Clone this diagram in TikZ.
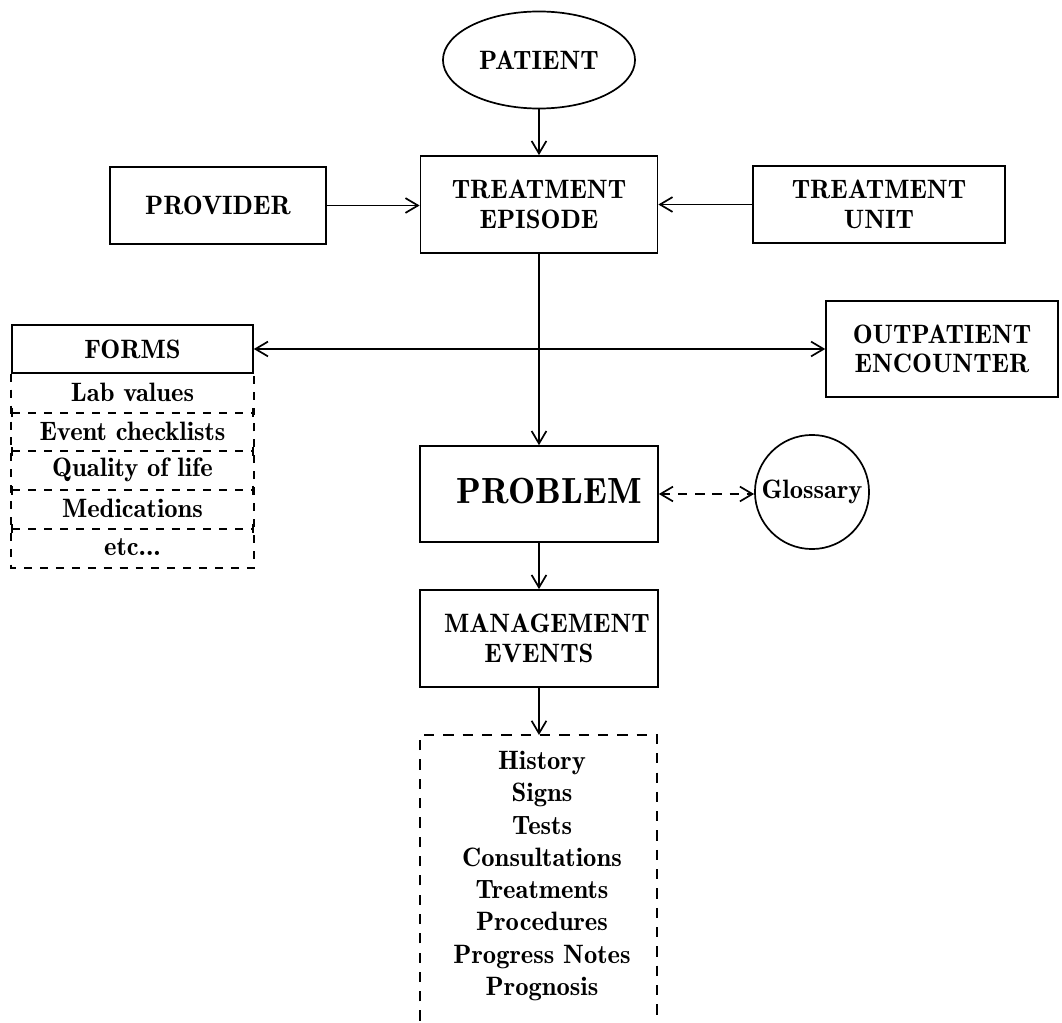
\documentclass[tikz,border=0pt]{standalone}
\usepackage{tikz}
\usetikzlibrary{shapes.geometric, arrows.meta}

\begin{document}
\begin{tikzpicture}[x=0.44pt, y=-0.44pt, font=\fontsize{11.7}{13}\fontseries{b}\selectfont, line width=0.75pt,
  >={Straight Barb[length=5.5pt, width=6.5pt]},
  box/.style={draw, rectangle, inner sep=0pt, align=center},
  row/.style={inner sep=0pt, minimum width=106pt, minimum height=17pt},
  sep/.style={dash pattern=on 3.5pt off 3.5pt, {Bar[width=4pt]}-{Bar[width=4pt]}}]
  \useasboundingbox (0,0) rectangle (1062,1023);
  \node[draw, ellipse, inner sep=0pt, minimum width=84.5pt, minimum height=42.7pt] (patient) at (539,60) {PATIENT};
  \node[box, minimum width=104.3pt, minimum height=42.7pt] (episode) at (539,204.5) {TREATMENT\\EPISODE};
  \node[box, minimum width=95pt, minimum height=33.9pt] (provider) at (218,205.5) {PROVIDER};
  \node[box, minimum width=110.9pt, minimum height=33.9pt] (unit) at (879,204.5) {TREATMENT\\UNIT};
  \node[box, minimum width=102pt, minimum height=42.2pt] (outpatient) at (942,349) {OUTPATIENT\\ENCOUNTER};
  \node[box, minimum width=104.7pt, minimum height=42.2pt, font=\fontsize{16}{18}\fontseries{b}\selectfont] (problem) at (539,494) {\hspace{9pt}PROBLEM\vphantom{g}};
  \node[box, minimum width=104.7pt, minimum height=42.7pt] (management) at (539,638.5) {\hspace{7pt}MANAGEMENT\\EVENTS};
  \node[draw, circle, inner sep=0pt, minimum size=50.2pt] (glossary) at (812,492) {Glossary};

  % forms with their rows
  \node[box, minimum width=106pt, minimum height=21.1pt] (forms) at (132.5,349) {FORMS};
  \node[row] (lab) at (132.5,392.5) {Lab values};
  \node[row] (checklist) at (132.5,431) {Event checklists};
  \node[row] (quality) at (132.5,470) {Quality of life};
  \node[row] (medication) at (132.5,508.5) {Medications};
  \node[row] (etc) at (132.5,547.5) {etc...};
  \draw[dash pattern=on 3.5pt off 3.5pt] (forms.south west) -- (etc.south west) -- (etc.south east) -- (forms.south east);
  \draw[sep] (lab.south west) -- (lab.south east);
  \draw[sep] (checklist.south west) -- (checklist.south east);
  \draw[sep] (quality.south west) -- (quality.south east);
  \draw[sep] (medication.south west) -- (medication.south east);

  % list of management events, open at the bottom
  \node[align=center, font=\fontsize{11.7}{14.2}\fontseries{b}\selectfont] (events) at (542,876) {History\\Signs\\Tests\\Consultations\\Treatments\\Procedures\\Progress Notes\\Prognosis};
  \coordinate (evtop) at (539,735);
  \draw[dash pattern=on 4.5pt off 4pt] (420,1040) -- (420,735) -- (657,735) -- (657,1040);

  \draw[->] (patient) -- (episode);
  \draw[->] (provider.east) -- (provider.east -| episode.west);
  \draw[->] (unit.west) -- (unit.west -| episode.east);
  \draw[<->] (forms.east) -- (outpatient.west);
  \draw[->] (episode) -- (problem);
  \draw[<->, dash pattern=on 4pt off 3.5pt] (problem.east) -- (problem.east -| glossary.west);
  \draw[->] (problem) -- (management);
  \draw[->] (management) -- (evtop);
\end{tikzpicture}
\end{document}
